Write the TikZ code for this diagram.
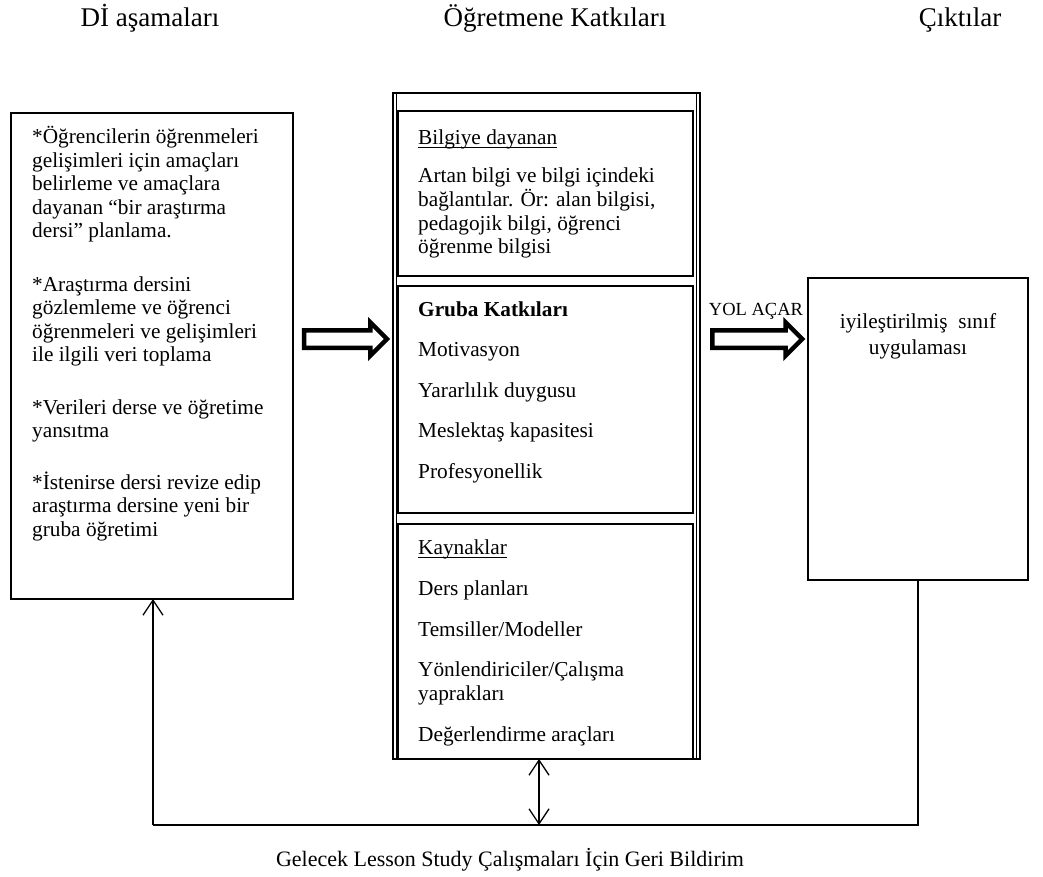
\documentclass[tikz,border=0pt]{standalone}
\usepackage{fontspec}
\setmainfont{Liberation Serif}
\usetikzlibrary{arrows.meta,shapes.arrows}
\begin{document}
\begin{tikzpicture}[x=1pt,y=-1pt,
  panel/.style={draw,line width=1.6pt,inner sep=0pt,outer sep=0pt,anchor=north west},
  subpanel/.style={draw,line width=1.1pt,inner sep=0pt,outer sep=0pt,anchor=north west},
  body/.style={font=\fontsize{21.3}{24.6}\selectfont,anchor=base west,inner sep=0pt},
  centred/.style={font=\fontsize{21.3}{24.6}\selectfont,anchor=base,inner sep=0pt},
  heading/.style={font=\fontsize{27}{32}\selectfont,anchor=base,inner sep=0pt},
  wire/.style={line width=1.3pt},
  barb/.style={-{Straight Barb[length=15pt,width=20pt]}},
  twobarb/.style={{Straight Barb[length=15pt,width=20pt]}-{Straight Barb[length=15pt,width=20pt]}},
  blockarrow/.style={single arrow,draw,line width=4.5pt,fill=white,inner sep=6.5pt,outer sep=0pt,
    single arrow head extend=8pt,anchor=tail},
  uline/.style={line width=1pt},
]
\useasboundingbox (0,0) rectangle (1043,877);
\fill[white] (0,0) rectangle (1043,877);

% column headings
\node[heading] (h1) at (150,27) {Dİ aşamaları};
\node[heading] (h2) at (555,27) {Öğretmene Katkıları};
\node[heading] (h3) at (960,27) {Çıktılar};

% left panel: lesson study stages
\node[panel,minimum width=282pt,minimum height=486pt] (stages) at (11,113) {};
\node[body] (s1)  at (32,144)   {*Öğrencilerin öğrenmeleri};
\node[body] (s2)  at (32,167.5) {gelişimleri için amaçları};
\node[body] (s3)  at (32,191)   {belirleme ve amaçlara};
\node[body] (s4)  at (32,214.5) {dayanan “bir araştırma};
\node[body] (s5)  at (32,238)   {dersi” planlama.};
\node[body] (s6)  at (32,291)   {*Araştırma dersini};
\node[body] (s7)  at (32,314.5) {gözlemleme ve öğrenci};
\node[body] (s8)  at (32,338)   {öğrenmeleri ve gelişimleri};
\node[body] (s9)  at (32,361.5) {ile ilgili veri toplama};
\node[body] (s10) at (32,414)   {*Verileri derse ve öğretime};
\node[body] (s11) at (32,437.5) {yansıtma};
\node[body] (s12) at (32,489)   {*İstenirse dersi revize edip};
\node[body] (s13) at (32,512.5) {araştırma dersine yeni bir};
\node[body] (s14) at (32,536)   {gruba öğretimi};

% middle frame with its three sections
\node[panel,minimum width=307pt,minimum height=666pt] (mid) at (393,93) {};
\draw[line width=0.8pt] ([xshift=3.5pt]mid.north west) -- ([xshift=3.5pt]mid.south west);
\draw[line width=0.8pt] ([xshift=-3.5pt]mid.north east) -- ([xshift=-3.5pt]mid.south east);

\node[subpanel,minimum width=295pt,minimum height=165pt] (know) at (398,111) {};
\node[body] (k0) at (418,145)   {Bilgiye dayanan};
\draw[uline] ([yshift=-3pt]k0.base west) -- ([yshift=-3pt]k0.base east);
\node[body] (k1) at (418,183)   {Artan bilgi ve bilgi içindeki};
\node[body] (k2) at (418,206.5) {bağlantılar. Ör: alan bilgisi,};
\node[body] (k3) at (418,230)   {pedagojik bilgi, öğrenci};
\node[body] (k4) at (418,253.5) {öğrenme bilgisi};

\node[subpanel,minimum width=295pt,minimum height=227pt] (group) at (398,286) {};
\node[body,font=\fontsize{21.3}{24.6}\selectfont\bfseries] (g0) at (418,316) {Gruba Katkıları};
\node[body] (g1) at (418,356.5) {Motivasyon};
\node[body] (g2) at (418,397)   {Yararlılık duygusu};
\node[body] (g3) at (418,437.5) {Meslektaş kapasitesi};
\node[body] (g4) at (418,478)   {Profesyonellik};

\node[subpanel,minimum width=295pt,minimum height=235pt] (res) at (398,524) {};
\node[body] (r0) at (418,554.5) {Kaynaklar};
\draw[uline] ([yshift=-3pt]r0.base west) -- ([yshift=-3pt]r0.base east);
\node[body] (r1) at (418,595)   {Ders planları};
\node[body] (r2) at (418,636)   {Temsiller/Modeller};
\node[body] (r3) at (418,676.5) {Yönlendiriciler/Çalışma};
\node[body] (r4) at (418,700)   {yaprakları};
\node[body] (r5) at (418,741)   {Değerlendirme araçları};

% right panel: outcome
\node[panel,minimum width=220pt,minimum height=302pt] (out) at (808,278) {};
\node[centred] (o1) at (918,328) {iyileştirilmiş\ \ sınıf};
\node[centred] (o2) at (918,354) {uygulaması};

% block arrows between the panels
\node[blockarrow,minimum height=83pt] (a1) at (304,339) {};
\node[blockarrow,minimum height=90pt] (a2) at (712.25,339) {};
\node[font=\fontsize{18.5}{22}\selectfont,anchor=base,inner sep=0pt] (yol) at (756,315) {YOL AÇAR};

% feedback loop
\coordinate (fbR) at (918,825);
\coordinate (fbL) at (153,825);
\coordinate (fbM) at (539,825);
\draw[wire] (out.south -| fbR) -- (fbR) -- (fbL);
\draw[wire,barb] (fbL) -- (stages.south -| fbL);
\draw[wire,twobarb] (mid.south -| fbM) -- (fbM);
\node[font=\fontsize{22}{26}\selectfont,anchor=base,inner sep=0pt] (fbtext) at (510,866)
  {Gelecek Lesson Study Çalışmaları İçin Geri Bildirim};
\end{tikzpicture}
\end{document}
